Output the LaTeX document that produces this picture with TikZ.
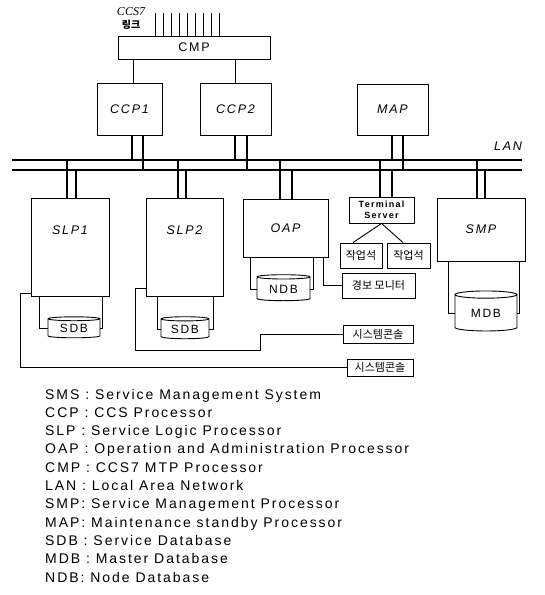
\documentclass[tikz,border=0pt]{standalone}
\usepackage{fontspec}
\setmainfont{Liberation Sans}
\newfontfamily\lblfont[LetterSpace=14]{Liberation Sans}
\newfontfamily\krfont{Noto Sans CJK KR}
\newfontfamily\serffont{Liberation Serif}
\usetikzlibrary{shapes.geometric}

\tikzset{
  unit/.style={draw, line width=0.9pt, inner sep=0pt,
    font=\lblfont\itshape\fontsize{12.5}{14}\selectfont},
  krbox/.style={draw, line width=0.9pt, inner sep=0pt,
    font=\krfont\fontsize{11}{12}\selectfont},
  db/.style={draw, line width=0.9pt, cylinder, shape border rotate=90,
    inner sep=0pt, font=\lblfont\fontsize{12}{14}\selectfont},
  wire/.style={line width=0.9pt},
  link/.style={line width=1.3pt},
  bus/.style={line width=1.6pt},
  legend/.style={font=\lblfont\fontsize{14}{16}\selectfont, inner sep=0pt},
}

\begin{document}
\begin{tikzpicture}[x=1pt, y=-1pt]
    \useasboundingbox (0,0) rectangle (545,595);

    % Top units
    \node[unit, font=\lblfont\fontsize{12.5}{14}\selectfont, minimum width=152, minimum height=23] (cmp) at (194,47.5) {CMP};
    \node[unit, minimum width=65, minimum height=52] (ccp1) at (129.5,109) {CCP1};
    \node[unit, minimum width=71, minimum height=52] (ccp2) at (235.5,109) {CCP2};
    \node[unit, minimum width=71, minimum height=51] (map) at (392.5,109.5) {MAP};

    % CCS7 links
    \node[font=\serffont\itshape\fontsize{12}{13}\selectfont, align=center, inner sep=0pt] (ccs) at (131,19) {CCS7\\{\krfont\bfseries\fontsize{10}{13}\selectfont 링크}};
    \foreach \i in {0,...,8}
        \draw[wire] ([xshift=38+\i*8]cmp.north west) -- ++(0,-23);
    \draw[wire] ([xshift=3.5]ccp1.north) -- ([xshift=3.5]ccp1.north |- cmp.south);
    \draw[wire] ([xshift=-0.5]ccp2.north) -- ([xshift=-0.5]ccp2.north |- cmp.south);

    % LAN
    \coordinate (busAw) at (12,160);
    \coordinate (busAe) at (522,160);
    \coordinate (busBw) at (12,170);
    \coordinate (busBe) at (522,170);
    \draw[bus] (busAw) -- (busAe);
    \draw[bus] (busBw) -- (busBe);
    \node[font=\lblfont\itshape\fontsize{12.5}{14}\selectfont, inner sep=0pt] (lan) at (508,146) {LAN};

    % Lower units
    \node[unit, minimum width=78, minimum height=98, text depth=34] (slp1) at (70,247) {SLP1};
    \node[unit, minimum width=77, minimum height=98, text depth=34] (slp2) at (184.5,247) {SLP2};
    \node[unit, minimum width=85, minimum height=58] (oap) at (285.5,228) {OAP};
    \node[unit, font=\lblfont\bfseries\fontsize{9}{10.5}\selectfont, align=center, minimum width=65, minimum height=26] (term) at (381.5,210) {Terminal\\Server};
    \node[unit, minimum width=88, minimum height=63] (smp) at (481,229.5) {SMP};

    \node[krbox, minimum width=42, minimum height=25] (ws1) at (361,255.5) {작업석};
    \node[krbox, minimum width=43, minimum height=25] (ws2) at (408.5,255.5) {작업석};
    \node[krbox, minimum width=73, minimum height=25] (alarm) at (378.5,285.5) {경보 모니터};
    \node[krbox, minimum width=70, minimum height=18] (console1) at (378,334) {시스템콘솔};
    \node[krbox, minimum width=66, minimum height=17] (console2) at (380,367.5) {시스템콘솔};

    % Databases
    \node[db, minimum width=52, minimum height=21, aspect=0.14] (sdb1) at (74,328.5) {SDB};
    \node[db, minimum width=48, minimum height=22, aspect=0.15] (sdb2) at (185,329) {SDB};
    \node[db, minimum width=53, minimum height=26, aspect=0.15] (ndb) at (283.5,289) {NDB};
    \node[db, minimum width=62, minimum height=40, aspect=0.24] (mdb) at (486,313) {MDB};

    % Links to LAN
    \foreach \n/\a/\b in {ccp1/2.5/13.5, ccp2/-0.5/11.5, map/-0.5/10.5} {
        \draw[link] ([xshift=\a]\n.south) -- ([xshift=\a]\n.south |- busAw);
        \draw[link] ([xshift=\b]\n.south) -- ([xshift=\b]\n.south |- busBw);
    }
    \foreach \n/\a/\b in {slp1/-3/6, slp2/-6.5/1.5, oap/-5.5/6.5, term/-1.5/10.5, smp/-4/4} {
        \draw[link] ([xshift=\a]\n.north) -- ([xshift=\a]\n.north |- busAw);
        \draw[link] ([xshift=\b]\n.north) -- ([xshift=\b]\n.north |- busBw);
    }

    % Local connections
    \draw[wire] ([xshift=-31]slp1.south) |- (sdb1.west);
    \draw[wire] ([xshift=32]slp1.south) |- (sdb1.east);
    \draw[wire] ([xshift=-27.5]slp2.south) |- (sdb2.west);
    \draw[wire] ([xshift=28.5]slp2.south) |- (sdb2.east);
    \draw[wire] ([xshift=-35.5]oap.south) |- (ndb.west);
    \draw[wire] ([xshift=27.5]oap.south) |- (ndb.east);
    \draw[wire] ([xshift=37.5]oap.south) |- (alarm.west);
    \draw[wire] ([xshift=-33]smp.south) |- (mdb.west);
    \draw[wire] ([xshift=38]smp.south) |- (mdb.east);
    \draw[wire] (term.south) -- ([xshift=-8]ws1.north);
    \draw[wire] (term.south) -- ([xshift=-5.5]ws2.north);

    % Consoles
    \coordinate (jog) at (260,350);
    \draw[wire] ([yshift=8]slp2.south west) -- ++(-10,0) |- (jog) |- (console1.west);
    \draw[wire] ([yshift=3]slp1.south west) -- ++(-10,0) |- (console2.west);

    % Legend
    \foreach \t [count=\i] in {SMS : Service Management System, CCP : CCS Processor,
        SLP : Service Logic Processor, OAP : Operation and Administration Processor,
        CMP : CCS7 MTP Processor, LAN : Local Area Network,
        SMP: Service Management Processor, MAP: Maintenance standby Processor,
        SDB : Service Database, MDB : Master Database, NDB: Node Database}
        \node[legend, anchor=base west] (leg\i) at (45,{399+18.3*(\i-1)}) {\t};
\end{tikzpicture}
\end{document}
